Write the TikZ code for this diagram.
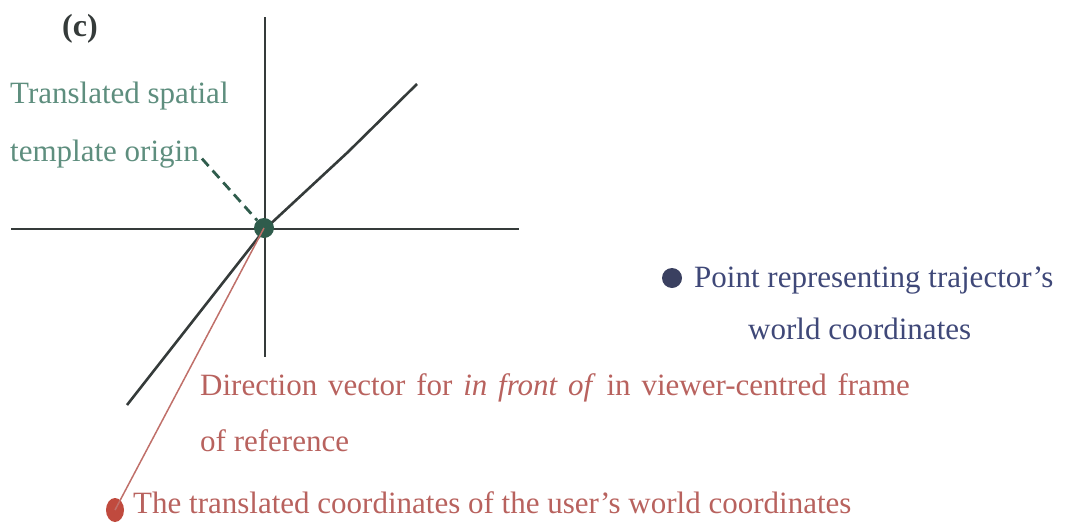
\documentclass[tikz,border=0pt]{standalone}
\usepackage{fontspec}
\setmainfont{Liberation Serif}
\usetikzlibrary{arrows.meta,shapes.geometric}
\definecolor{axis}{HTML}{353B3A}
\definecolor{gtext}{HTML}{5E8E7E}
\definecolor{gdot}{HTML}{2F5C4C}
\definecolor{rtext}{HTML}{B8625E}
\definecolor{rline}{HTML}{C0706A}
\definecolor{rdot}{HTML}{C04A3E}
\definecolor{btext}{HTML}{3F4878}
\definecolor{bdot}{HTML}{3A4060}
\tikzset{
  lbl/.style={anchor=base west, inner sep=0pt, font=\fontsize{31}{31}\selectfont},
  axisline/.style={draw=axis, line width=2.6pt},
}
\begin{document}
\begin{tikzpicture}[x=1pt,y=-1pt]
\useasboundingbox (0,0) rectangle (1065,525);
% axes
\coordinate (vt) at (265,17);
\coordinate (vb) at (265,357);
\coordinate (hl) at (11,229);
\coordinate (hr) at (519,229);
\coordinate (dl) at (127,405);
\coordinate (dm) at (265,229);
\coordinate (dk) at (348,152);
\coordinate (du) at (417,84);
\draw[axisline] (vt) -- (vb);
\draw[axisline] (hl) -- (hr);
\draw[axisline] (dl) -- (dm) -- (dk) -- (du);
% label (c)
\node[lbl, font=\fontsize{32}{32}\selectfont\bfseries, text=axis] (c) at (62,36) {(c)};
% green
\node[lbl, text=gtext] (t1) at (10,103) {Translated spatial};
\node[lbl, text=gtext] (t2) at (10,161) {template origin};
\node[circle, fill=gdot, minimum size=20pt, inner sep=0pt] (g) at (264,228) {};
% red
\node[ellipse, fill=rdot, minimum width=18pt, minimum height=24pt, inner sep=0pt] (r) at (115,510) {};
\draw[rline, line width=1.5pt] (g.center) -- (r.center);
\draw[gdot, line width=2.8pt, dash pattern=on 10pt off 6pt] (t2.east) ++(3,5) coordinate (ga) -- (g);
\node[lbl, text=rtext] (d1) at (200,395) {\spaceskip=10.8pt\relax Direction vector for \textit{in front of} in viewer-centred frame};
\node[lbl, text=rtext] (d2) at (200,451) {of reference};
\node[lbl, text=rtext] (d3) at (133,513) {The translated coordinates of the user’s world coordinates};
% blue
\node[circle, fill=bdot, minimum size=20pt, inner sep=0pt] (b) at (672,278) {};
\node[lbl, text=btext] (p1) at (694,287) {Point representing trajector’s};
\node[lbl, text=btext] (p2) at (748,339) {world coordinates};
\end{tikzpicture}
\end{document}
